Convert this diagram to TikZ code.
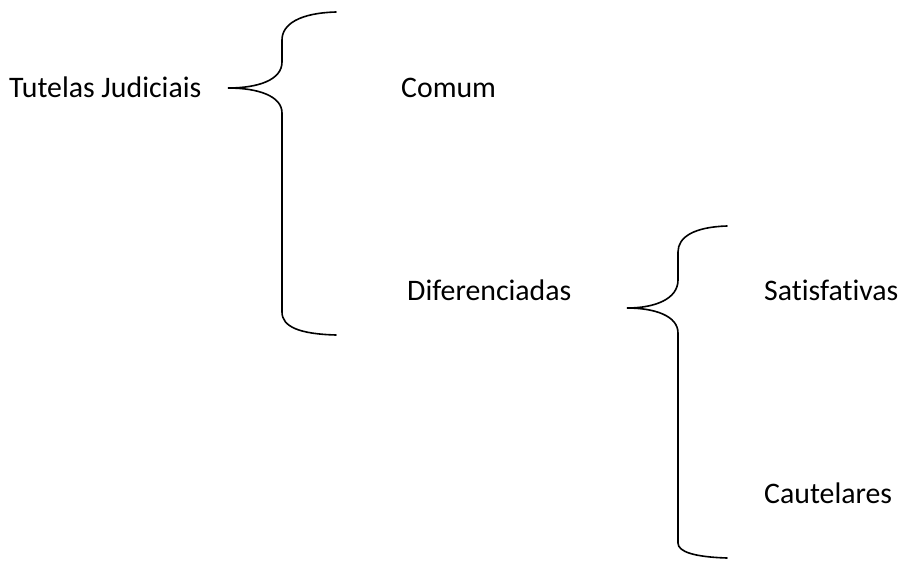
\documentclass[tikz,border=0pt]{standalone}
\usepackage{fontspec}
\setmainfont[Ligatures=NoCommon]{Carlito}
\begin{document}
\begin{tikzpicture}[x=1pt,y=-1pt,
  label/.style={anchor=base west,inner sep=0pt,font=\fontsize{29.8}{35}\selectfont},
  bracket/.style={line width=1.6pt,line cap=round}]
\useasboundingbox (0,0) rectangle (900,563);

% texts
\node[label] (tut) at (9,97) {Tutelas Judiciais};
\node[label] (com) at (401,97) {Comum};
\node[label] (dif) at (407,300) {Diferenciadas};
\node[label] (sat) at (764,300) {Satisfativas};
\node[label] (cau) at (764,503) {Cautelares};

% first brace
\coordinate (b1tip) at (228,88);
\draw[bracket] (336,12) .. controls (300,13) and (282,24) .. (282,40)
  -- (282,62) .. controls (282,80) and (258,88) .. (b1tip)
  .. controls (258,88) and (282,96) .. (282,113)
  -- (282,312) .. controls (282,327) and (300,334) .. (336,335);

% second brace
\coordinate (b2tip) at (627,308);
\draw[bracket] (727,226) .. controls (694,227) and (678,237) .. (678,252)
  -- (678,280) .. controls (678,299) and (655,308) .. (b2tip)
  .. controls (655,308) and (678,316) .. (678,333)
  -- (678,543) .. controls (678,552) and (695,557) .. (727,558);
\end{tikzpicture}
\end{document}
